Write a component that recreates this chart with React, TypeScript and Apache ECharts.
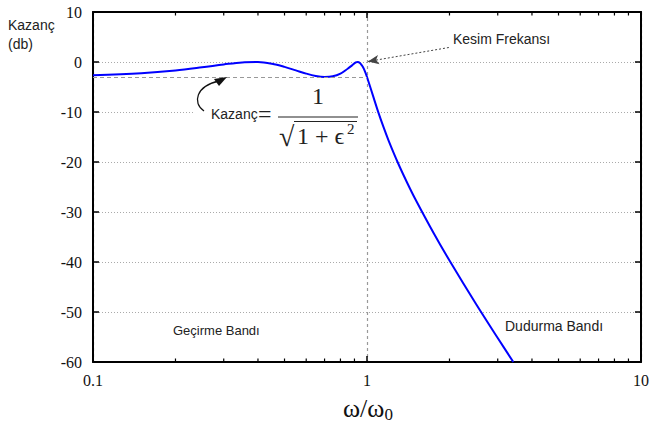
import React, { useEffect, useRef } from "react";
import * as echarts from "echarts";

// Frequency ratio (ω/ω0) and gain (dB)
const freq = [0.1, 0.15, 0.2, 0.25, 0.3, 0.35, 0.4, 0.45, 0.5, 0.55, 0.6, 0.65, 0.7, 0.75, 0.8, 0.85, 0.88, 0.91, 0.925, 0.94, 0.96, 0.975, 0.99, 1.0, 1.05, 1.1, 1.15, 1.2, 1.3, 1.4, 1.5, 1.75, 2, 2.5, 3, 3.42];
const gain = [-2.66, -2.24, -1.7, -1.07, -0.49, -0.08, -0.02, -0.35, -0.97, -1.68, -2.32, -2.79, -3.0, -2.87, -2.32, -1.34, -0.72, -0.08, 0.0, -0.13, -0.75, -1.42, -2.33, -3.0, -6.63, -10.07, -13.09, -15.76, -20.3, -24.1, -27.4, -34.2, -39.7, -48.4, -55.2, -60];

const xTickLabels = ["0.1", "1", "10"];
const minorTicks = [0.2, 0.3, 0.4, 0.5, 0.6, 0.7, 0.8, 0.9, 2, 3, 4, 5, 6, 7, 8, 9];
const rippleLevel = -3;
const cutoff = 1;
const kesimArrow = [[1.99, 2.9], [1.008, 0.1]];

const SERIF = "Liberation Serif";
const SANS = "Liberation Sans";

export default function App() {
  const ref = useRef<HTMLDivElement>(null);
  useEffect(() => {
    if (!ref.current) return;
    const chart = echarts.init(ref.current, null, { renderer: "svg" });
    const axisLineStyle = { color: "#000", width: 2 };
    const tickStyle = { color: "#000", width: 1.5 };
    const fmtX = (v: number) => {
      const e = Math.round(Math.log10(v));
      return "{t|" + (xTickLabels[e + 1] ?? String(v)) + "}";
    };
    const fmtY = (v: number) => "{t|" + String(v) + "}";
    const rich = { t: { fontFamily: SERIF, fontSize: 16, color: "#111" } };
    const option: any = {
      animation: false,
      backgroundColor: "#fff",
      textStyle: { fontFamily: SERIF, fontSize: 16, color: "#111" },
      grid: { left: 93, right: 9, top: 12, bottom: 61 },
      xAxis: [
        {
          type: "log",
          logBase: 10,
          min: 0.1,
          max: 10,
          position: "bottom",
          axisLine: { show: true, onZero: false, lineStyle: axisLineStyle },
          axisTick: { show: true, inside: true, length: 6, lineStyle: tickStyle },
          axisLabel: { fontFamily: SERIF, fontSize: 16, color: "#111", margin: 10, formatter: fmtX, rich },
          splitLine: { show: true, lineStyle: { color: "#999", type: [3, 3], width: 1.2 } },
        },
        {
          type: "log",
          logBase: 10,
          min: 0.1,
          max: 10,
          position: "top",
          axisLine: { show: true, onZero: false, lineStyle: axisLineStyle },
          axisTick: { show: true, inside: true, length: 6, lineStyle: tickStyle },
          axisLabel: { show: false },
          splitLine: { show: false },
        },
      ],
      yAxis: [
        {
          type: "value",
          min: -60,
          max: 10,
          interval: 10,
          position: "left",
          axisLine: { show: true, onZero: false, lineStyle: axisLineStyle },
          axisTick: { show: true, inside: true, length: 6, lineStyle: tickStyle },
          axisLabel: { fontFamily: SERIF, fontSize: 16, color: "#111", margin: 11, formatter: fmtY, rich },
          splitLine: { show: true, lineStyle: { color: "#aaa", type: [1, 2], width: 1 } },
        },
        {
          type: "value",
          min: -60,
          max: 10,
          interval: 10,
          position: "right",
          axisLine: { show: true, onZero: false, lineStyle: axisLineStyle },
          axisTick: { show: true, inside: true, length: 6, lineStyle: tickStyle },
          axisLabel: { show: false },
          splitLine: { show: false },
        },
      ],
      series: [
        {
          type: "line",
          xAxisIndex: 0,
          yAxisIndex: 0,
          data: freq.map((f, i) => [f, gain[i]]),
          showSymbol: false,
          smooth: 0.35,
          lineStyle: { color: "#0000ff", width: 2 },
          z: 4,
          markLine: {
            silent: true,
            symbol: ["none", "none"],
            label: { show: false },
            lineStyle: { color: "#999", type: [4, 3], width: 1.2 },
            data: [[{ coord: [0.1, rippleLevel] }, { coord: [cutoff, rippleLevel] }]],
          },
        },
        {
          type: "line",
          xAxisIndex: 0,
          yAxisIndex: 0,
          data: [],
          markLine: {
            silent: true,
            symbol: ["none", "arrow"],
            symbolSize: [7, 11],
            label: { show: false },
            lineStyle: { color: "#444", type: [2, 2], width: 1 },
            data: [[{ coord: kesimArrow[0] }, { coord: kesimArrow[1] }]],
          },
        },
        {
          type: "custom",
          xAxisIndex: 0,
          yAxisIndex: 0,
          silent: true,
          clip: false,
          data: minorTicks.map((v) => [v, -60]),
          encode: { x: 0, y: 1 },
          renderItem: (params: any, api: any) => {
            const x = api.value(0);
            const b = api.coord([x, -60]);
            const t = api.coord([x, 10]);
            return {
              type: "group",
              children: [
                { type: "line", shape: { x1: b[0], y1: b[1], x2: b[0], y2: b[1] - 3.5 }, style: { stroke: "#000", lineWidth: 1.2 } },
                { type: "line", shape: { x1: t[0], y1: t[1], x2: t[0], y2: t[1] + 3.5 }, style: { stroke: "#000", lineWidth: 1.2 } },
              ],
            };
          },
        },
      ],
      graphic: [
        { type: "text", left: 8, top: 15, z: 100, style: { text: "Kazanç\n(db)", font: `14px ${SANS}`, fill: "#222", lineHeight: 19 } },
        { type: "text", x: 453, y: 39, z: 100, style: { text: "Kesim Frekansı", font: `14px ${SANS}`, fill: "#222", verticalAlign: "middle" } },
        { type: "text", x: 173, y: 330, z: 100, style: { text: "Geçirme Bandı", font: `13px ${SANS}`, fill: "#222", verticalAlign: "middle" } },
        { type: "text", x: 505, y: 326, z: 100, style: { text: "Dudurma Bandı", font: `14px ${SANS}`, fill: "#222", verticalAlign: "middle" } },
        {
          type: "text",
          x: 343,
          y: 408,
          z: 100,
          style: {
            text: "{m|ω/ω}{s|0}",
            verticalAlign: "middle",
            rich: {
              m: { font: `26px ${SERIF}`, fill: "#111" },
              s: { font: `17px ${SERIF}`, fill: "#111", padding: [12, 0, 0, 0] },
            },
          },
        },
        { type: "rect", z: 5, shape: { x: 195, y: 84, width: 169, height: 66 }, style: { fill: "#fff" } },
        { type: "text", x: 211, y: 114, z: 100, style: { text: "Kazanç", font: `14px ${SANS}`, fill: "#222", verticalAlign: "middle" } },
        { type: "text", x: 258, y: 114, z: 100, style: { text: "=", font: `24px ${SERIF}`, fill: "#222", verticalAlign: "middle" } },
        { type: "text", x: 318, y: 96, z: 100, style: { text: "1", font: `24px ${SERIF}`, fill: "#222", align: "center", verticalAlign: "middle" } },
        { type: "line", z: 100, shape: { x1: 278, y1: 117, x2: 358, y2: 117 }, style: { stroke: "#222", lineWidth: 1.2 } },
        { type: "text", x: 279, y: 136, z: 100, style: { text: "√", font: `28px ${SERIF}`, fill: "#222", verticalAlign: "middle" } },
        { type: "line", z: 100, shape: { x1: 294, y1: 121.5, x2: 357, y2: 121.5 }, style: { stroke: "#222", lineWidth: 1 } },
        { type: "text", x: 297, y: 136, z: 100, style: { text: "1 + ϵ", font: `24px ${SERIF}`, fill: "#222", verticalAlign: "middle" } },
        { type: "text", x: 347, y: 129, z: 100, style: { text: "2", font: `15px ${SERIF}`, fill: "#222", verticalAlign: "middle" } },
        { type: "bezierCurve", z: 100, shape: { x1: 204, y1: 111, cpx1: 192, cpy1: 103, cpx2: 196, cpy2: 86, x2: 219, y2: 81 }, style: { stroke: "#111", lineWidth: 1.3, fill: "none" } },
        { type: "polygon", z: 100, shape: { points: [[227, 77], [214, 79], [219, 86]] }, style: { fill: "#111" } },
      ],
    };
    chart.setOption(option);
    return () => chart.dispose();
  }, []);
  return <div ref={ref} style={{ position: "fixed", left: 0, top: 0, width: 652, height: 423 }} />;
}
